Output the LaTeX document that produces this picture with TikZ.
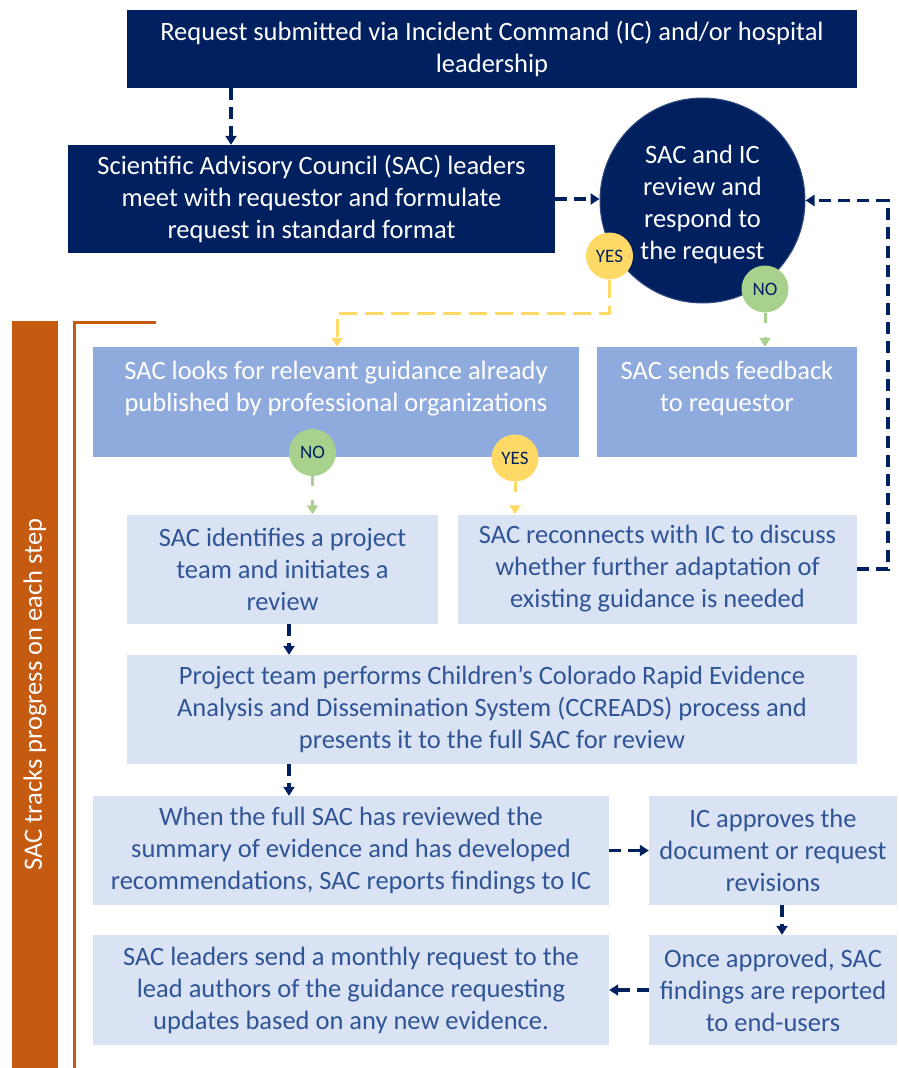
\documentclass[tikz,border=0pt]{standalone}
\usepackage{fontspec}
\setmainfont{Carlito}
\usetikzlibrary{arrows.meta,calc}
\definecolor{navy}{HTML}{002060}
\definecolor{midblue}{HTML}{8FAADC}
\definecolor{lightblue}{HTML}{DAE3F3}
\definecolor{txtblue}{HTML}{2F5597}
\definecolor{yesyellow}{HTML}{FFD966}
\definecolor{nogreen}{HTML}{A9D18E}
\definecolor{barorange}{HTML}{C55A11}
\tikzset{
  mainfont/.style={font=\fontsize{26.5}{32}\selectfont},
  darkbox/.style={fill=navy, text=white, inner sep=0pt, align=center, mainfont},
  midbox/.style={fill=midblue, text=white, inner sep=0pt, align=center, mainfont},
  lightbox/.style={fill=lightblue, text=txtblue, inner sep=0pt, align=center, mainfont},
  badge/.style={circle, inner sep=0pt, minimum size=47pt, text=navy, font=\fontsize{19}{20}\selectfont},
  yesbadge/.style={badge, fill=yesyellow},
  nobadge/.style={badge, fill=nogreen},
  navydash/.style={draw=navy, line width=3.4pt, dash pattern=on 12pt off 7pt, -{Triangle[length=9pt,width=11pt]}},
  yellowdash/.style={draw=yesyellow, line width=3pt, dash pattern=on 18pt off 8pt, -{Triangle[length=9pt,width=11pt]}},
  greendash/.style={draw=nogreen, line width=3pt, dash pattern=on 10pt off 14pt, -{Triangle[length=9pt,width=11pt]}},
  yellowshort/.style={draw=yesyellow, line width=3pt, dash pattern=on 10pt off 14pt, -{Triangle[length=9pt,width=11pt]}},
}
\begin{document}
\begin{tikzpicture}[x=1pt,y=-1pt]
\useasboundingbox (0,0) rectangle (898,1068);
% side bar and bracket
\node[fill=barorange, text=white, rotate=90, minimum width=747pt, minimum height=46pt, inner sep=0pt, font=\fontsize{26.5}{32}\selectfont] (bar) at (35,694.5) {SAC tracks progress on each step};
\coordinate (brA) at (156,322);
\coordinate (brB) at (74,1068);
\draw[barorange, line width=3pt] (brA) -| (brB);

% boxes
\node[darkbox, minimum width=730pt, minimum height=78pt] (top) at (492,49) {Request submitted via Incident Command (IC) and/or hospital\\leadership};
\node[darkbox, minimum width=487pt, minimum height=108pt] (box2) at (311.5,199) {Scientific Advisory Council (SAC) leaders\\meet with requestor and formulate\\request in standard format};
\node[circle, fill=navy, minimum size=205pt, draw=navy!80!white, line width=1pt, inner sep=0pt] (circ) at (702.5,200.5) {};
\node[text=white, align=center, inner sep=0pt, mainfont] (circtxt) at (702.5,204) {SAC and IC\\review and\\respond to\\the request};
\node[midbox, minimum width=486pt, minimum height=110pt] (box3) at (336,402) {SAC looks for relevant guidance already\\published by professional organizations\\~};
\node[midbox, minimum width=260pt, minimum height=110pt] (box4) at (727,402) {SAC sends feedback\\to requestor\\~};
\node[lightbox, minimum width=311pt, minimum height=109pt] (box5) at (282.5,569) {SAC identifies a project\\team and initiates a\\review};
\node[lightbox, minimum width=399pt, minimum height=109pt] (box6) at (657.5,569) {SAC reconnects with IC to discuss\\whether further adaptation of\\existing guidance is needed};
\node[lightbox, minimum width=730pt, minimum height=109pt] (box7) at (492,709.5) {Project team performs Children’s Colorado Rapid Evidence\\Analysis and Dissemination System (CCREADS) process and\\presents it to the full SAC for review};
\node[lightbox, minimum width=516pt, minimum height=109pt] (box8) at (351,850.5) {When the full SAC has reviewed the\\summary of evidence and has developed\\recommendations, SAC reports findings to IC};
\node[lightbox, minimum width=248pt, minimum height=109pt] (box9) at (773,850.5) {IC approves the\\document or request\\revisions};
\node[lightbox, minimum width=248pt, minimum height=110pt] (box10) at (773,990) {Once approved, SAC\\findings are reported\\to end-users};
\node[lightbox, minimum width=516pt, minimum height=110pt] (box11) at (351,990) {SAC leaders send a monthly request to the\\lead authors of the guidance requesting\\updates based on any new evidence.};

% badges
\node[yesbadge] (yes1) at (609.5,256) {YES};
\node[nobadge] (no1) at (765,289) {NO};
\node[nobadge] (no2) at (312.5,452.5) {NO};
\node[yesbadge] (yes2) at (515,458) {YES};

% helper coordinates
\coordinate (c231) at (231,0);
\coordinate (ya) at (337,313);
\coordinate (fb) at (888,0);
\coordinate (c289) at (289,0);
\coordinate (c782) at (782,0);

% connectors
\draw[navydash] (top.south -| c231) -- (box2.north -| c231);
\draw[navydash] (box2.east) -- (box2.east -| circ.west);
\draw[yellowdash] (yes1.south) |- (ya) -- (ya |- box3.north);
\draw[greendash] (no1.south) -- (no1.south |- box4.north);
\draw[greendash] (no2.south) -- (no2.south |- box5.north);
\draw[yellowshort] (yes2.south) -- (yes2.south |- box6.north);
\draw[navydash] (box6.east) -- (box6.east -| fb) |- (circ.east);
\draw[navydash] (box5.south -| c289) -- (box7.north -| c289);
\draw[navydash] (box7.south -| c289) -- (box8.north -| c289);
\draw[navydash] (box8.east) -- (box9.west);
\draw[navydash] (box9.south -| c782) -- (box10.north -| c782);
\draw[navydash] (box10.west) -- (box11.east);
\end{tikzpicture}
\end{document}
